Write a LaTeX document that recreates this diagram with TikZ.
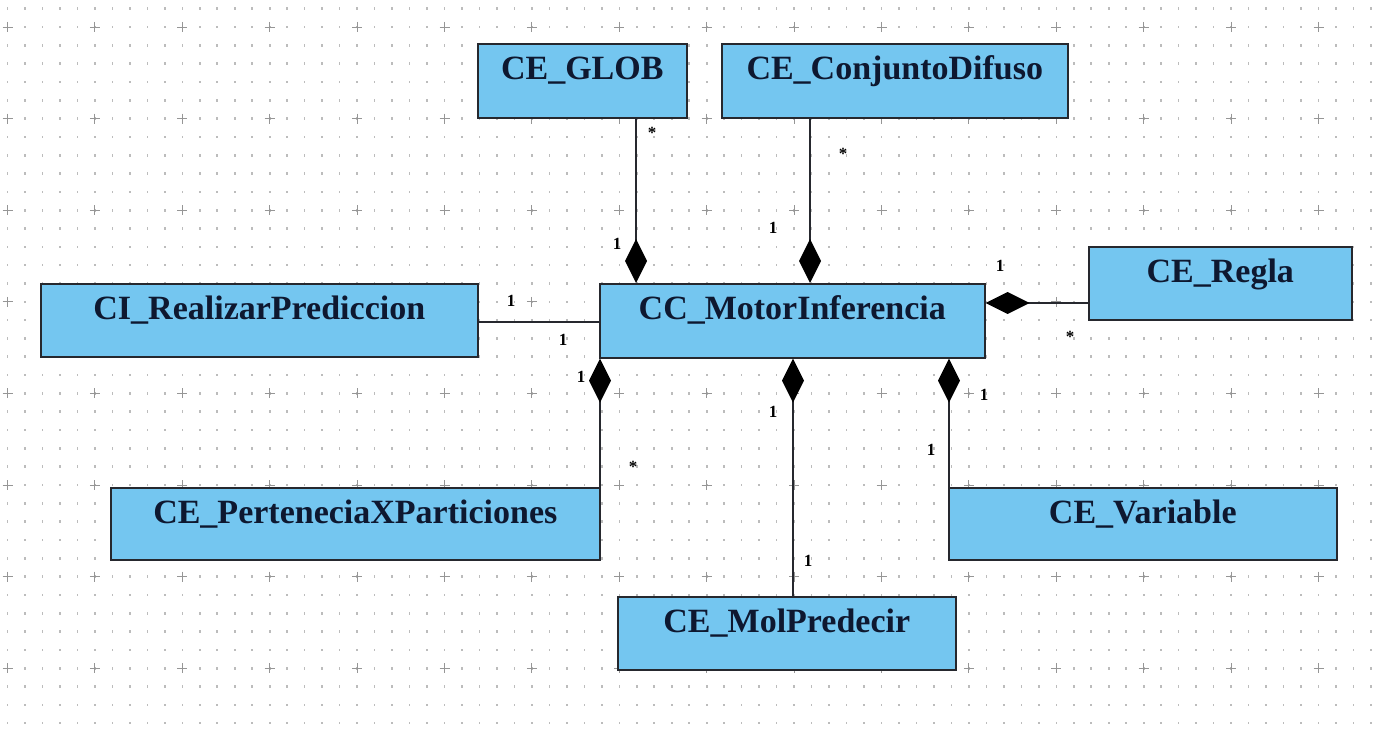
\documentclass[tikz,border=0pt]{standalone}
\usepackage{fontspec}
\setmainfont{Liberation Serif}
\usetikzlibrary{arrows.meta}
\definecolor{classfill}{RGB}{116,198,240}
\definecolor{classtext}{RGB}{14,24,48}
\definecolor{edgecol}{RGB}{38,40,46}
\definecolor{griddot}{RGB}{188,188,188}
\definecolor{gridcross}{RGB}{150,150,150}
\begin{document}
\begin{tikzpicture}[x=1pt,y=-1pt,
  classbox/.style 2 args={draw=edgecol, line width=1.6pt, fill=classfill,
    anchor=north west, inner xsep=0pt, inner ysep=0pt,
    minimum width=#1, text height=35.5pt, text depth=#2,
    font=\fontsize{34}{40}\selectfont\bfseries, text=classtext},
  link/.style={draw=edgecol, line width=1.6pt},
  comp/.style={link, {Diamond[length=44pt,width=22pt,fill=black,color=black]}-},
  mult/.style={font=\fontsize{17}{20}\selectfont\bfseries, text=black, inner sep=0pt}
]
% canvas and drawing grid
\useasboundingbox (0,0) rectangle (1375,738);
\fill[white] (0,0) rectangle (1375,738);
\foreach \i in {0,...,78}
  \foreach \j in {0,...,40}
    \fill[griddot] (7.5+17.48*\i-0.8, 8.7+18.32*\j-1.3) rectangle ++(1.6,2.6);
\foreach \i in {0,...,15}
  \foreach \j in {0,...,7}
    \draw[gridcross, line width=0.9pt]
      (7.5+87.4*\i-5, 27+91.6*\j) -- ++(10,0)
      (7.5+87.4*\i, 27+91.6*\j-5) -- ++(0,10);

% classes
\node[classbox={209pt}{38.5pt}] (glob)  at (477,43)  {CE\_GLOB};
\node[classbox={346pt}{38.5pt}] (conj)  at (721,43)  {CE\_ConjuntoDifuso};
\node[classbox={385pt}{38.5pt}] (motor) at (599,283) {CC\_MotorInferencia};
\node[classbox={263pt}{37.5pt}] (regla) at (1088,246) {CE\_Regla};
\node[classbox={437pt}{37.5pt}] (real)  at (40,283)  {CI\_RealizarPrediccion};
\node[classbox={489pt}{36.5pt}] (pert)  at (110,487) {CE\_PerteneciaXParticiones};
\node[classbox={388pt}{36.5pt}] (var)   at (948,487) {CE\_Variable};
\node[classbox={338pt}{37.5pt}] (mol)   at (617,596) {CE\_MolPredecir};

% attachment columns and rows
\coordinate (xg) at (636,0);
\coordinate (xc) at (810,0);
\coordinate (xp) at (600,0);
\coordinate (xm) at (793,0);
\coordinate (xv) at (949,0);
\coordinate (yr) at (0,303);
\coordinate (yi) at (0,322);

% associations
\draw[comp] (motor.north -| xg) -- (glob.south -| xg);
\draw[comp] (motor.north -| xc) -- (conj.south -| xc);
\draw[comp] (motor.east |- yr) -- (regla.west |- yr);
\draw[link] (real.east |- yi) -- (motor.west |- yi);
\draw[comp] (motor.south -| xp) -- (pert.north -| xp);
\draw[comp] (motor.south -| xm) -- (mol.north -| xm);
\draw[comp] (motor.south -| xv) -- (var.north -| xv);

% multiplicities
\node[mult] (m1)  at (652,133) {*};
\node[mult] (m2)  at (617,244) {1};
\node[mult] (m3)  at (843,154) {*};
\node[mult] (m4)  at (773,228) {1};
\node[mult] (m5)  at (1000,266) {1};
\node[mult] (m6)  at (1070,337) {*};
\node[mult] (m7)  at (511,301) {1};
\node[mult] (m8)  at (563,340) {1};
\node[mult] (m9)  at (581,377) {1};
\node[mult] (m10) at (633,467) {*};
\node[mult] (m11) at (773,412) {1};
\node[mult] (m12) at (808,561) {1};
\node[mult] (m13) at (984,395) {1};
\node[mult] (m14) at (931,450) {1};
\end{tikzpicture}
\end{document}
